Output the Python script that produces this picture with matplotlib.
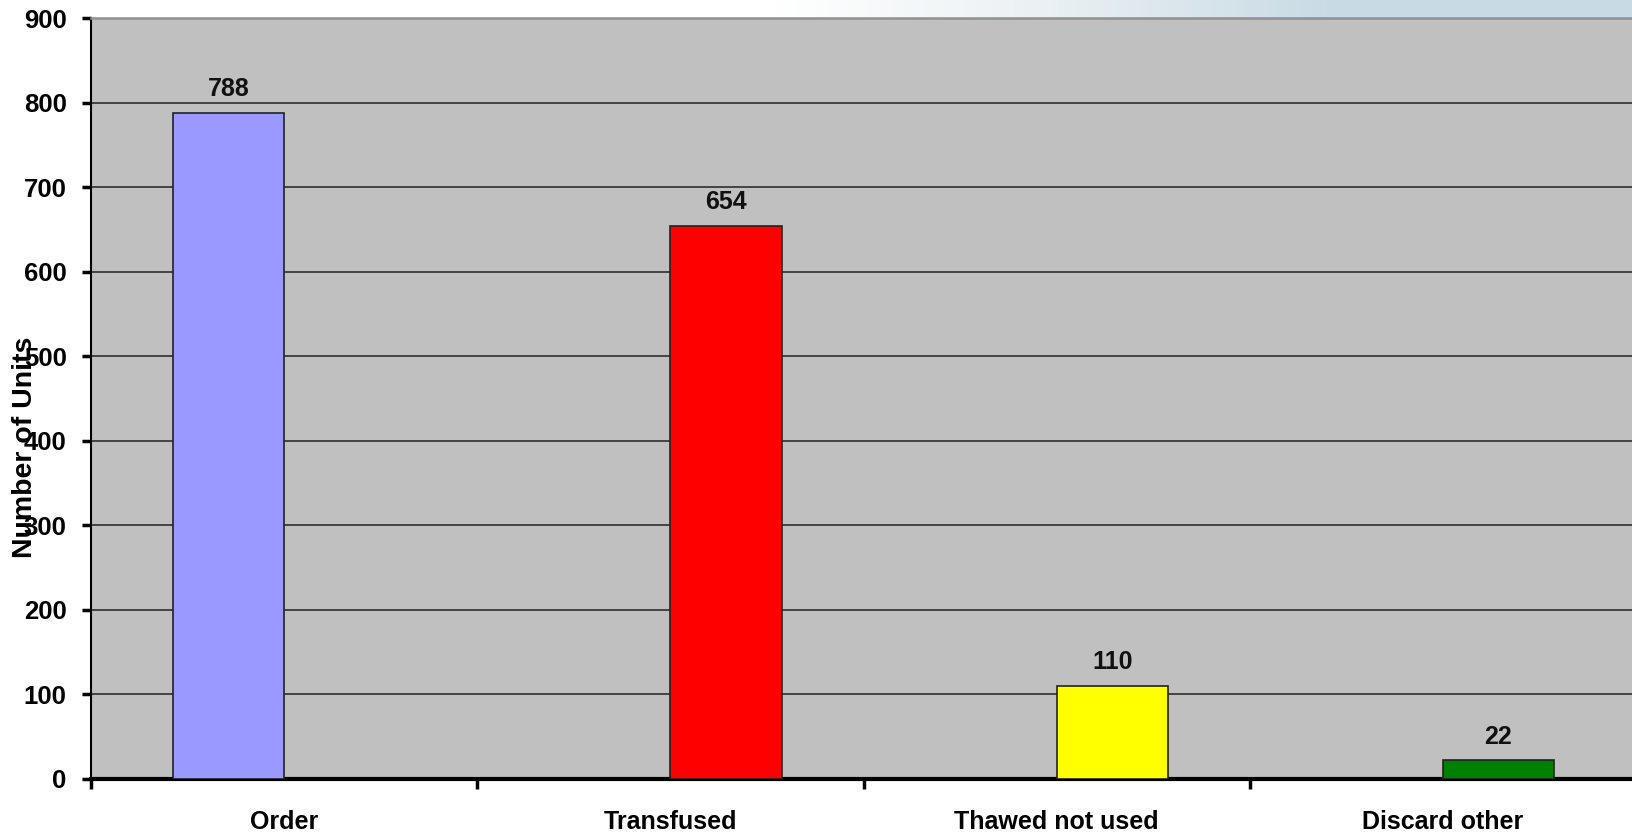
import numpy as np
import matplotlib
matplotlib.use("Agg")
import matplotlib.pyplot as plt
from matplotlib.colors import LinearSegmentedColormap

plt.rcParams['font.family'] = ['Liberation Sans', 'DejaVu Sans']

categories = ['Order', 'Transfused', 'Thawed not used', 'Discard other']
units = [788, 654, 110, 22]
series_idx = [0, 1, 1, 1]          # Order is its own series, the rest share the second
bar_colors = ['#9999ff', '#ff0000', '#ffff00', '#008000']
y_ticks = list(range(0, 1000, 100))

W, H = 1632, 836
fig = plt.figure(figsize=(W / 100, H / 100), dpi=100)
fig.patch.set_facecolor('white')

# pale header band fading into blue on the right
band = fig.add_axes([0, 1 - 18 / H, 1, 18 / H], zorder=0)
cmap = LinearSegmentedColormap.from_list(
    'band', [(0, '#ffffff'), (780 / W, '#ffffff'), (1050 / W, '#eaf0f3'),
             (1330 / W, '#c9dbe5'), (1, '#c8dae4')])
band.imshow(np.linspace(0, 1, 512)[None, :], cmap=cmap, aspect='auto',
            extent=[0, 1, 0, 1])
band.set_axis_off()

ax = fig.add_axes([91 / W, 1 - 779 / H, (1636 - 91) / W, (779 - 18) / H], zorder=1)
ax.set_facecolor('#c0c0c0')

x = np.arange(len(categories))
width = 0.288
offsets = np.where(np.array(series_idx) == 0, -width / 2, width / 2)
bars = ax.bar(x + offsets, units, width=width, color=bar_colors,
              edgecolor='#222222', linewidth=1.2, zorder=3)

for b, v in zip(bars, units):
    ax.annotate(f'{v}', xy=(b.get_x() + b.get_width() / 2, v),
                xytext=(0, 8.5), textcoords='offset points',
                ha='center', va='bottom', fontsize=18, fontweight='bold',
                color='#111111')

ax.set_xlim(-0.5, len(categories) - 0.5)
ax.set_ylim(0, 900)
ax.set_yticks(y_ticks)
ax.set_yticklabels([str(t) for t in y_ticks], fontsize=18.5, fontweight='bold')
for t in y_ticks[1:-1]:
    ax.axhline(t, color='#222222', linewidth=1.1, zorder=1)

ax.set_xticks(x)
ax.set_xticklabels(categories, fontsize=18, fontweight='bold')
ax.set_xticks(np.arange(len(categories) + 1) - 0.5, minor=True)
ax.tick_params(axis='x', which='major', length=0, pad=22)
ax.tick_params(axis='x', which='minor', length=7, width=2.5, direction='out')
ax.tick_params(axis='y', length=6.5, width=2.5, direction='out', pad=11)

ax.spines['right'].set_visible(False)
ax.spines['top'].set_color('#909090')
ax.spines['top'].set_linewidth(1.8)
ax.spines['left'].set_color('black')
ax.spines['left'].set_linewidth(1.5)
ax.spines['bottom'].set_color('black')
ax.spines['bottom'].set_linewidth(3)

fig.text(25 / W, 1 - 447 / H, 'Number of Units', rotation=90, ha='center',
         va='center', fontsize=20.5, fontweight='bold')

fig.savefig('out.png', dpi=100, facecolor='white')
